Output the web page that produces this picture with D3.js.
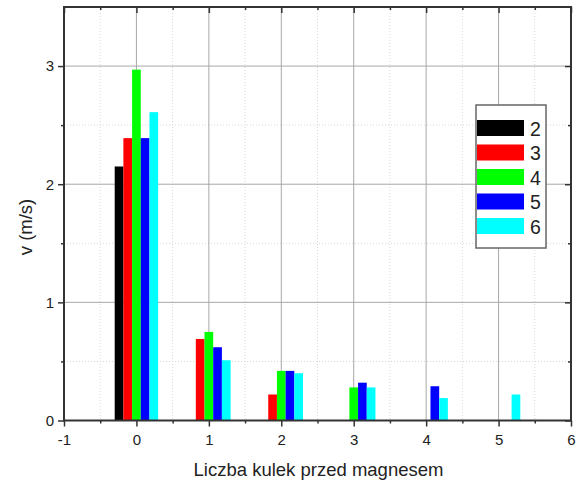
<!DOCTYPE html>
<html>
<head>
<meta charset="utf-8">
<script src="https://cdn.jsdelivr.net/npm/d3@7"></script>
<style>
  body { margin: 0; background: #fff; }
  svg { font-family: "Liberation Sans", Arial, sans-serif; }
</style>
</head>
<body>
<div id="vis"></div>
<script>
// values
const categories = [0, 1, 2, 3, 4, 5]
const seriesNames = ['2', '3', '4', '5', '6']
const seriesColors = ['#000000', '#ff0000', '#00ff00', '#0000ff', '#00ffff']
const v2 = [2.15, null, null, null, null, null]
const v3 = [2.39, 0.69, 0.22, null, null, null]
const v4 = [2.97, 0.75, 0.42, 0.28, null, null]
const v5 = [2.39, 0.62, 0.42, 0.32, 0.29, null]
const v6 = [2.61, 0.51, 0.40, 0.28, 0.19, 0.22]
const seriesValues = [v2, v3, v4, v5, v6]
const xTicks = [-1, 0, 1, 2, 3, 4, 5, 6]
const yTicks = [0, 1, 2, 3]

const W = 579, H = 483
const frame = {left: 64, right: 571, top: 7, bottom: 420.5}

const svg = d3.select('#vis').append('svg')
    .attr('width', W)
    .attr('height', H)

const x = d3.scaleLinear().domain([-1, 6]).range([frame.left, frame.right])
const y = d3.scaleLinear().domain([0, 3.5]).range([frame.bottom, frame.top])
// offset of each series inside a group, in data units
const band = d3.scaleBand().domain(seriesNames).range([-0.3, 0.3])

// grid: minor dotted, major solid
const minorX = d3.range(-0.5, 6, 1)
const minorY = [0.5, 1.5, 2.5]
svg.append('g').selectAll('line').data(minorX).join('line')
    .attr('x1', d => x(d)).attr('x2', d => x(d))
    .attr('y1', frame.top).attr('y2', frame.bottom)
    .attr('stroke', '#d8d8d8').attr('stroke-dasharray', '1,2')
svg.append('g').selectAll('line').data(minorY).join('line')
    .attr('x1', frame.left).attr('x2', frame.right)
    .attr('y1', d => y(d)).attr('y2', d => y(d))
    .attr('stroke', '#d8d8d8').attr('stroke-dasharray', '1,2')
svg.append('g').selectAll('line').data(xTicks.slice(1, -1)).join('line')
    .attr('x1', d => x(d)).attr('x2', d => x(d))
    .attr('y1', frame.top).attr('y2', frame.bottom)
    .attr('stroke', '#a8a8a8').attr('stroke-width', 1)
svg.append('g').selectAll('line').data(yTicks.slice(1)).join('line')
    .attr('x1', frame.left).attr('x2', frame.right)
    .attr('y1', d => y(d)).attr('y2', d => y(d))
    .attr('stroke', '#a8a8a8').attr('stroke-width', 1)

// bars
seriesNames.forEach((s, i) => {
    const rows = categories.map((c, j) => ({c: c, v: seriesValues[i][j]})).filter(d => d.v != null)
    svg.append('g').selectAll('rect').data(rows).join('rect')
        .attr('x', d => x(d.c + band(s)))
        .attr('width', d => x(d.c + band(s) + band.bandwidth()) - x(d.c + band(s)))
        .attr('y', d => y(d.v))
        .attr('height', d => y(0) - y(d.v))
        .attr('fill', seriesColors[i])
})

// axes
function styleAxis(g) {
    g.select('.domain').remove()
    g.selectAll('.tick line').attr('stroke', '#333').attr('stroke-width', 1.5)
    g.selectAll('.tick text').attr('fill', '#222').attr('font-size', 15)
}
const plain = d => String(d)
const bottom = svg.append('g').attr('transform', `translate(0,${frame.bottom})`)
bottom.call(d3.axisBottom(x).tickValues(xTicks).tickFormat(plain).tickSize(6).tickSizeOuter(0).tickPadding(8))
bottom.call(styleAxis)
svg.append('g').attr('transform', `translate(0,${frame.bottom})`)
    .call(d3.axisBottom(x).tickValues(minorX).tickSize(3).tickFormat('')).call(styleAxis)

const left = svg.append('g').attr('transform', `translate(${frame.left},0)`)
left.call(d3.axisLeft(y).tickValues(yTicks).tickFormat(plain).tickSize(6).tickSizeOuter(0).tickPadding(4))
left.call(styleAxis)
svg.append('g').attr('transform', `translate(${frame.left},0)`)
    .call(d3.axisLeft(y).tickValues(minorY).tickSize(3).tickFormat('')).call(styleAxis)

// top and right ticks point inward
svg.append('g').attr('transform', `translate(0,${frame.top})`)
    .call(d3.axisBottom(x).tickValues(xTicks).tickSize(6).tickFormat('')).call(styleAxis)
svg.append('g').attr('transform', `translate(0,${frame.top})`)
    .call(d3.axisBottom(x).tickValues(minorX).tickSize(3).tickFormat('')).call(styleAxis)
svg.append('g').attr('transform', `translate(${frame.right},0)`)
    .call(d3.axisLeft(y).tickValues(yTicks).tickSize(6).tickFormat('')).call(styleAxis)
svg.append('g').attr('transform', `translate(${frame.right},0)`)
    .call(d3.axisLeft(y).tickValues(minorY).tickSize(3).tickFormat('')).call(styleAxis)

svg.append('rect')
    .attr('x', frame.left).attr('y', frame.top)
    .attr('width', frame.right - frame.left).attr('height', frame.bottom - frame.top)
    .attr('fill', 'none').attr('stroke', '#333').attr('stroke-width', 2)

// axis titles
svg.append('text')
    .attr('x', (frame.left + frame.right) / 2 + 1)
    .attr('y', 476)
    .attr('text-anchor', 'middle')
    .attr('font-size', 18.5)
    .attr('fill', '#222')
    .text('Liczba kulek przed magnesem')
svg.append('text')
    .attr('transform', 'translate(32,227) rotate(-90)')
    .attr('text-anchor', 'middle')
    .attr('font-size', 18.5)
    .attr('fill', '#222')
    .text('v (m/s)')

// legend
const legend = svg.append('g').attr('transform', 'translate(476,105)')
legend.append('rect')
    .attr('width', 70).attr('height', 143)
    .attr('fill', '#fff').attr('stroke', '#666').attr('stroke-width', 1.5)
const item = legend.selectAll('g.item').data(seriesNames).join('g')
    .attr('class', 'item')
    .attr('transform', (d, i) => `translate(1,${15 + i * 24.5})`)
item.append('rect')
    .attr('width', 47).attr('height', 16)
    .attr('fill', (d, i) => seriesColors[i])
item.append('text')
    .attr('x', 53).attr('y', 15.5)
    .attr('font-size', 19.5)
    .attr('fill', '#222')
    .text(d => d)
</script>
</body>
</html>
